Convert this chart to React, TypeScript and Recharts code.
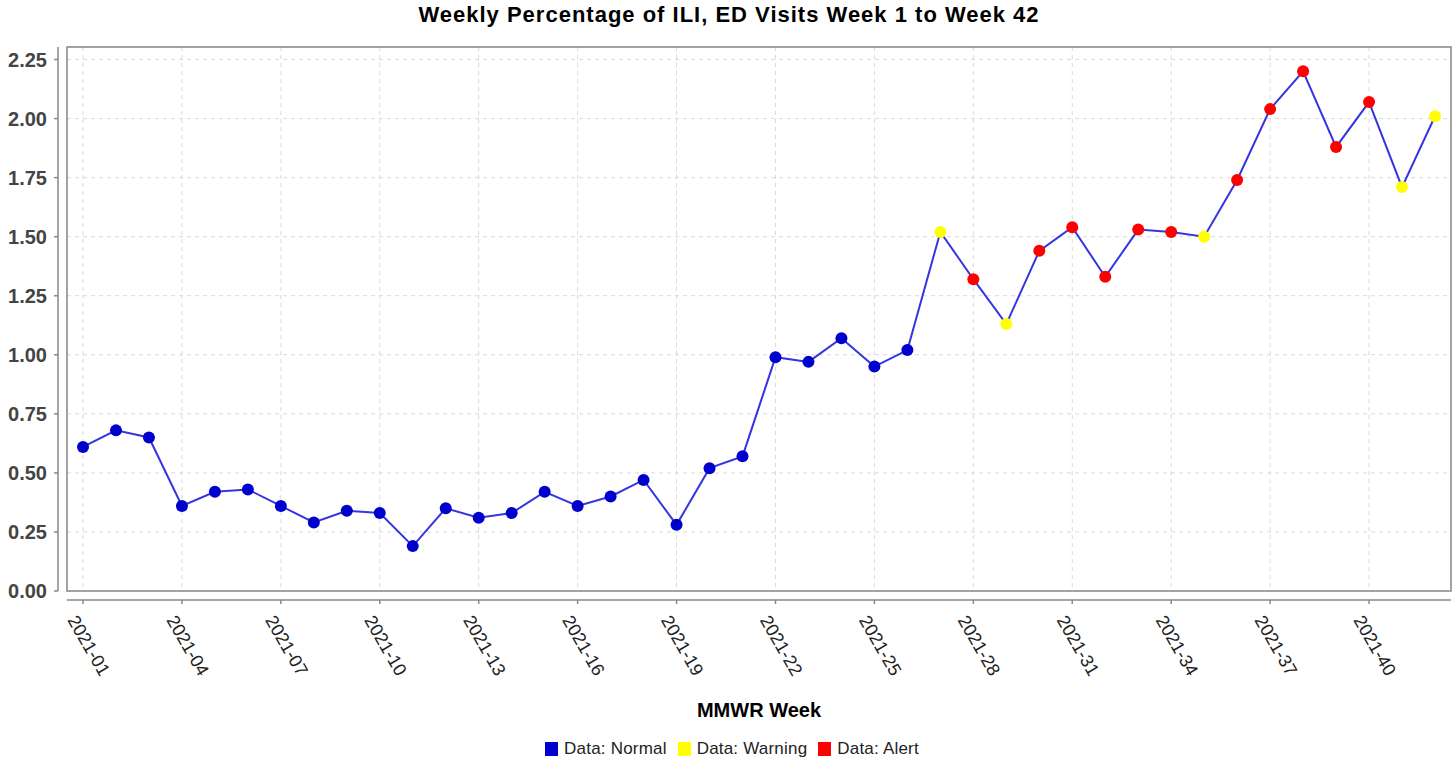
import React from 'react';
import { LineChart, Line, XAxis, YAxis, CartesianGrid, Customized } from 'recharts';

const weeks: string[] = [
  '2021-01', '2021-02', '2021-03', '2021-04', '2021-05', '2021-06', '2021-07',
  '2021-08', '2021-09', '2021-10', '2021-11', '2021-12', '2021-13', '2021-14',
  '2021-15', '2021-16', '2021-17', '2021-18', '2021-19', '2021-20', '2021-21',
  '2021-22', '2021-23', '2021-24', '2021-25', '2021-26', '2021-27', '2021-28',
  '2021-29', '2021-30', '2021-31', '2021-32', '2021-33', '2021-34', '2021-35',
  '2021-36', '2021-37', '2021-38', '2021-39', '2021-40', '2021-41', '2021-42',
];

const percents: number[] = [
  0.61, 0.68, 0.65, 0.36, 0.42, 0.43, 0.36, 0.29, 0.34, 0.33, 0.19, 0.35, 0.31, 0.33,
  0.42, 0.36, 0.40, 0.47, 0.28, 0.52, 0.57, 0.99, 0.97, 1.07, 0.95, 1.02, 1.52, 1.32,
  1.13, 1.44, 1.54, 1.33, 1.53, 1.52, 1.50, 1.74, 2.04, 2.20, 1.88, 2.07, 1.71, 2.01,
];

// N = normal, W = warning, A = alert
const status: string[] = [
  'N', 'N', 'N', 'N', 'N', 'N', 'N', 'N', 'N', 'N', 'N', 'N', 'N', 'N',
  'N', 'N', 'N', 'N', 'N', 'N', 'N', 'N', 'N', 'N', 'N', 'N', 'W', 'A',
  'W', 'A', 'A', 'A', 'A', 'A', 'W', 'A', 'A', 'A', 'A', 'A', 'W', 'W',
];

const tickWeeks: string[] = [
  '2021-01', '2021-04', '2021-07', '2021-10', '2021-13', '2021-16', '2021-19',
  '2021-22', '2021-25', '2021-28', '2021-31', '2021-34', '2021-37', '2021-40',
];

const yTicks: number[] = [0, 0.25, 0.5, 0.75, 1.0, 1.25, 1.5, 1.75, 2.0, 2.25];

const legendItems = [
  { key: 'N', label: 'Data: Normal', color: '#0000cc' },
  { key: 'W', label: 'Data: Warning', color: '#ffff00' },
  { key: 'A', label: 'Data: Alert', color: '#ff0000' },
];

const chartData = weeks.map((w, i) => ({ week: w, value: percents[i], status: status[i] }));

const W = 1453;
const H = 762;
const PLOT_LEFT = 67;
const PLOT_TOP = 47;
const PLOT_RIGHT = 1451;
const PLOT_BOTTOM = 591;
const FONT = '"Liberation Sans", Arial, sans-serif';

const statusColor = (s: string) => legendItems.find((l) => l.key === s)?.color ?? '#0000cc';

const YTick = (props: any) => {
  const { y, payload } = props;
  return (
    <g>
      <line x1={54} x2={58} y1={y} y2={y} stroke='#888' strokeWidth={1.5} />
      <text x={47} y={y} dy='0.36em' textAnchor='end' fontFamily={FONT} fontSize={20}
        fontWeight='bold' fill='#444'>
        {Number(payload.value).toFixed(2)}
      </text>
    </g>
  );
};

const XTick = (props: any) => {
  const { x, payload } = props;
  return (
    <g>
      <line x1={x} x2={x} y1={600} y2={604} stroke='#888' strokeWidth={1.5} />
      <text transform={`translate(${x - 16}, 620) rotate(60)`} textAnchor='start'
        fontFamily={FONT} fontSize={18} fill='#222'>
        {payload.value}
      </text>
    </g>
  );
};

const renderDot = (props: any) => {
  const { cx, cy, index } = props;
  return <circle key={`dot-${index}`} cx={cx} cy={cy} r={6} fill={statusColor(status[index])} stroke='none' />;
};

const Decorations = () => (
  <g>
    <rect x={PLOT_LEFT} y={PLOT_TOP} width={PLOT_RIGHT - PLOT_LEFT} height={PLOT_BOTTOM - PLOT_TOP}
      fill='none' stroke='#888' strokeWidth={1.5} />
    <line x1={58} x2={58} y1={PLOT_TOP} y2={PLOT_BOTTOM} stroke='#888' strokeWidth={1.5} />
    <line x1={PLOT_LEFT} x2={PLOT_RIGHT} y1={600} y2={600} stroke='#888' strokeWidth={1.5} />
    <text x={729} y={22} textAnchor='middle' fontFamily={FONT} fontSize={22} fontWeight='bold'
      letterSpacing={1} fill='#000'>
      Weekly Percentage of ILI, ED Visits Week 1 to Week 42
    </text>
    <text x={(PLOT_LEFT + PLOT_RIGHT) / 2} y={717} textAnchor='middle' fontFamily={FONT} fontSize={20}
      fontWeight='bold' fill='#000'>
      MMWR Week
    </text>
  </g>
);

export default function App() {
  return (
    <div style={{ position: 'absolute', left: 0, top: 0, width: W, height: H, background: '#fff' }}>
      <LineChart width={W} height={H} data={chartData}
        margin={{ top: PLOT_TOP, right: W - PLOT_RIGHT, left: 0, bottom: 0 }}>
        <CartesianGrid stroke='#d9d9d9' strokeDasharray='4 4' />
        <XAxis dataKey='week' type='category' ticks={tickWeeks} interval={0} height={H - PLOT_BOTTOM}
          padding={{ left: 16, right: 16 }} axisLine={false} tickLine={false} tick={<XTick />} />
        <YAxis type='number' domain={[0, 2.303]} ticks={yTicks} width={PLOT_LEFT}
          axisLine={false} tickLine={false} tick={<YTick />} />
        <Customized component={Decorations} />
        <Line dataKey='value' stroke='#3535e0' strokeWidth={2} dot={renderDot} activeDot={false}
          isAnimationActive={false} />
      </LineChart>
      <div style={{ position: 'absolute', top: 739, left: 0, width: W, display: 'flex',
        justifyContent: 'center', paddingLeft: 22, boxSizing: 'border-box', fontFamily: FONT,
        fontSize: 17, letterSpacing: 0.2, color: '#222' }}>
        {legendItems.map((it) => (
          <div key={it.key} style={{ display: 'flex', alignItems: 'center', marginRight: 11 }}>
            <span style={{ width: 13, height: 14, background: it.color, marginRight: 6, display: 'inline-block' }} />
            <span>{it.label}</span>
          </div>
        ))}
      </div>
    </div>
  );
}
